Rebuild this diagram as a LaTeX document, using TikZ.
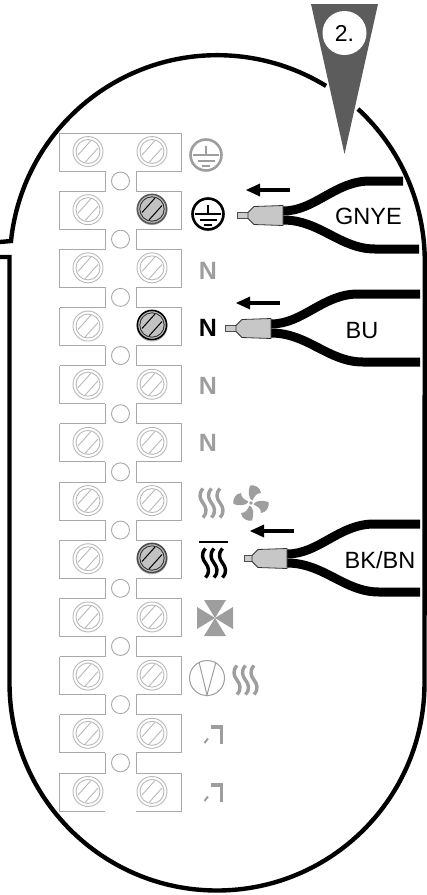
\documentclass[tikz,border=0pt]{standalone}
\usepackage{fontspec}
\setmainfont{Liberation Sans}
\definecolor{termgray}{gray}{0.66}
\definecolor{screwgray}{gray}{0.72}
\definecolor{symgray}{gray}{0.62}
\tikzset{
  outline/.style={black,line width=4.4pt},
  termline/.style={termgray,line width=0.9pt},
  screwline/.style={screwgray,line width=0.9pt},
  wire/.style={black,line width=9pt},
  tiparrow/.style={black,line width=3.2pt},
  wirelabel/.style={inner sep=0pt,font=\fontsize{23.5}{23.5}\selectfont},
  termletter/.style={inner sep=0pt,font=\fontsize{25}{25}\selectfont\bfseries},
  pics/earth/.style={code={
    \draw[#1,line width=2.6pt] (0,0) circle(15.5);
    \draw[#1,line width=2pt] (0,9) -- (0,0) (-13,0) -- (13,0) (-8.5,-6) -- (8.5,-6);
    \draw[#1,line width=2.4pt] (-4,-11) -- (4,-11);
  }},
  pics/heatwaves/.style={code={
    \foreach \wx in {-8.5,0,8.5}
      \draw[#1,line width=3.4pt] (\wx,14.5) .. controls (\wx-5,9) and (\wx-3,4) .. (\wx,0) .. controls (\wx+3,-4) and (\wx+5,-9) .. (\wx,-14.5);
  }},
  pics/contact/.style={code={
    \draw[symgray,line width=3.4pt] (211,0) -- (221.5,0) -- (221.5,-17);
    \draw[symgray,line width=2pt] (204.5,-16) -- (208,-11.5);
  }},
}
\begin{document}
\begin{tikzpicture}[x=1pt,y=1pt]
  \useasboundingbox (0,0) rectangle (427,-895);
  % outer housing
  \draw[outline] (0,-242) -- (11,-241) arc(174:58.4:207.5);
  \draw[outline] (358,-109) arc(47.3:0:207.5) -- (424.5,-683) arc(0:-180:207.5) -- (9.5,-257) -- (0,-257);
  % terminal strip
  \draw[termline] (59.5,-133) -- (181.5,-133) -- (181.5,-171);
  \foreach \r in {0,...,11} {
    \pgfmathsetmacro{\yt}{-133-58.18*\r}
    \draw[termline] (59.5,\yt) -- (59.5,\yt-38) -- (105,\yt-38);
    \draw[termline] (181.5,\yt) -- (181.5,\yt-38) -- (136,\yt-38);
    \ifnum\r<11
      \draw[termline] (105,\yt-38) -- (105,\yt-58.18) -- (59.5,\yt-58.18);
      \draw[termline] (136,\yt-38) -- (136,\yt-58.18) -- (181.5,\yt-58.18);
      \draw[termline] (120.5,\yt-48) circle(9);
    \fi
    \foreach \sx in {88,152} {
      \draw[screwline] (\sx,\yt-18.5) circle(15) (\sx,\yt-18.5) circle(12);
      \draw[screwline] (\sx-10,\yt-22) -- (\sx+3,\yt-7.5) (\sx-3,\yt-29.5) -- (\sx+10,\yt-15);
    }
  }
  % screws in use
  \foreach \sy/\sd in {-209/65,-325/100,-558/70} {
    \fill[black!24] (152,\sy) circle(15);
    \draw[black!\sd,line width=1.6pt] (152,\sy) circle(14.6);
    \draw[black!80,line width=0.9pt] (152,\sy) circle(12.2);
    \draw[black,line width=1pt] (142,\sy-3.5) -- (155,\sy+11) (149,\sy-11) -- (162,\sy+3.5);
  }
  % terminal symbols
  \pic at (206,-155) {earth=symgray};
  \pic at (208,-214) {earth=black};
  \node[termletter,text=symgray] (ntop) at (208,-271) {N};
  \node[termletter] (nuse) at (208,-328) {N};
  \node[termletter,text=symgray] (nmid) at (208,-386) {N};
  \node[termletter,text=symgray] (nlow) at (208,-443) {N};
  \pic at (211.5,-503) {heatwaves=symgray};
  \foreach \a in {0,90,180,270}
    \fill[symgray,rotate around={\a:(251,-503)},shift={(251,-503)}]
      (1.5,2) .. controls (-3,5) and (-3,12) .. (-1,17.5) .. controls (4,18.5) and (9.5,15.5) .. (10,10) .. controls (5,10) and (3,6) .. (1.5,2);
  \fill[white] (251,-503) circle(3.2);
  \fill[symgray] (251,-503) circle(1.8);
  \draw[black,line width=2.6pt] (199,-542) -- (228,-542);
  \pic at (214,-563) {heatwaves=black};
  \foreach \a in {0,90,180,270}
    \fill[symgray,rotate around={\a:(215,-618)},shift={(215,-618)}]
      (0,0) -- (-11,18) -- (11,18) -- cycle;
  \draw[symgray,line width=1pt] (207,-678) circle(17.5) (199,-662) -- (207,-695) -- (216,-662);
  \pic at (245.5,-680) {heatwaves=symgray};
  \pic at (0,-727) {contact};
  \pic at (0,-785) {contact};
  % ferrules and wires
  \foreach \bx/\by/\ex/\ux/\len in {283/-215.5/419/403/11,271/-328.5/420/420/11,287/-558.5/420/420/8} {
    \draw[wire] (\bx,\by+4.5) .. controls (\bx+32,\by+4.5) and (\bx+52,\by+34.5) .. (\bx+87,\by+34.5) -- (\ux,\by+34.5);
    \draw[wire] (\bx,\by-4.5) .. controls (\bx+37,\by-4.5) and (\bx+57,\by-33.5) .. (\bx+92,\by-33.5) -- (\ex,\by-33.5);
    \draw[fill=termgray!60,line width=0.8pt,draw=black!70] (\bx-35,\by+3) rectangle (\bx-35-\len,\by-3);
    \draw[fill=black!22,line width=0.8pt,draw=black!80] (\bx,\by+10) -- (\bx-29,\by+9) -- (\bx-35,\by+3) -- (\bx-35,\by-3) -- (\bx-29,\by-9) -- (\bx,\by-10) -- cycle;
  }
  % insertion arrows
  \foreach \ax/\ay in {290/-190,280/-303,294/-531} {
    \draw[tiparrow] (\ax,\ay) -- (\ax-30,\ay);
    \fill[black] (\ax-44,\ay) -- (\ax-30,\ay+6.5) -- (\ax-30,\ay-6.5) -- cycle;
  }
  % wire labels
  \node[wirelabel] (gnye) at (368.5,-216) {GNYE};
  \node[wirelabel] (bu) at (362,-331) {BU};
  \node[wirelabel] (bkbn) at (380,-560) {BK/BN};
  % step marker
  \fill[black!64] (311,-4) -- (378,-4) -- (344.5,-154) -- cycle;
  \node[circle,fill=white,minimum size=44pt,inner sep=0pt,font=\fontsize{23}{23}\selectfont] (stepnum) at (344.5,-33) {2.};
\end{tikzpicture}
\end{document}
